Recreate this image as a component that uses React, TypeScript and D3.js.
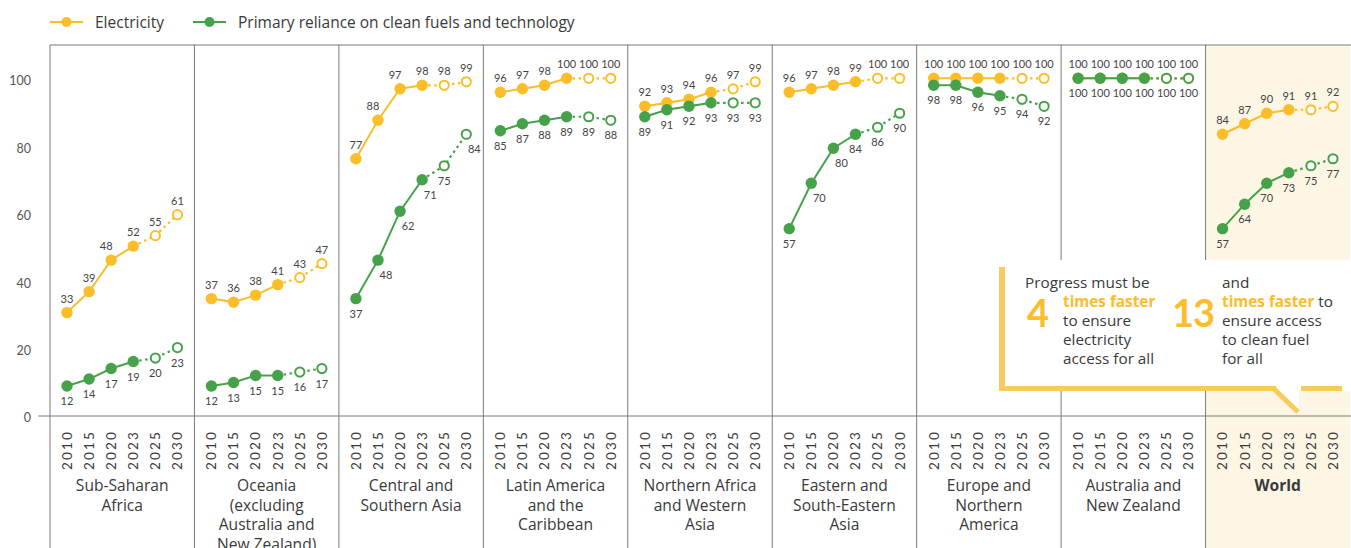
import React, { useEffect, useRef } from 'react';
import * as d3 from 'd3';

const regions = [
  'Sub-Saharan Africa',
  'Oceania (excluding Australia and New Zealand)',
  'Central and Southern Asia',
  'Latin America and the Caribbean',
  'Northern Africa and Western Asia',
  'Eastern and South-Eastern Asia',
  'Europe and Northern America',
  'Australia and New Zealand',
  'World',
];

const regionLabelLines = [
  ['Sub-Saharan', 'Africa'],
  ['Oceania', '(excluding', 'Australia and', 'New Zealand)'],
  ['Central and', 'Southern Asia'],
  ['Latin America', 'and the', 'Caribbean'],
  ['Northern Africa', 'and Western', 'Asia'],
  ['Eastern and', 'South-Eastern', 'Asia'],
  ['Europe and', 'Northern', 'America'],
  ['Australia and', 'New Zealand'],
  ['World'],
];

const years = ['2010', '2015', '2020', '2023', '2025', '2030'];
const lastActualIndex = 3; // 2025 and 2030 are projections

const electricity = [
  [33, 39, 48, 52, 55, 61],
  [37, 36, 38, 41, 43, 47],
  [77, 88, 97, 98, 98, 99],
  [96, 97, 98, 100, 100, 100],
  [92, 93, 94, 96, 97, 99],
  [96, 97, 98, 99, 100, 100],
  [100, 100, 100, 100, 100, 100],
  [100, 100, 100, 100, 100, 100],
  [84, 87, 90, 91, 91, 92],
];

const cleanFuels = [
  [12, 14, 17, 19, 20, 23],
  [12, 13, 15, 15, 16, 17],
  [37, 48, 62, 71, 75, 84],
  [85, 87, 88, 89, 89, 88],
  [89, 91, 92, 93, 93, 93],
  [57, 70, 80, 84, 86, 90],
  [98, 98, 96, 95, 94, 92],
  [100, 100, 100, 100, 100, 100],
  [57, 64, 70, 73, 75, 77],
];

const yTicks = [0, 20, 40, 60, 80, 100];

const YELLOW = '#FBBE28';
const GREEN = '#46A24A';
const CALLOUT = '#F9CA5C';
const TEXT = '#3a3a3a';
const FONT = 'Lato, "Open Sans", sans-serif';
const LABEL_FONT = '"Open Sans", Lato, sans-serif';

const App: React.FC = () => {
  const svgRef = useRef<SVGSVGElement>(null);

  useEffect(() => {
    if (!svgRef.current) return;
    const svg = d3.select(svgRef.current);
    svg.selectAll('*').remove();

    const width = 1351;
    const height = 548;
    const top = 45;
    const axisY = 416;

    const band = d3.scaleBand<string>().domain(regions).range([50, 1350]);
    const xInner = d3.scalePoint<string>().domain(years).range([0, band.bandwidth()]).padding(0.77);
    // data marks and tick labels sit on slightly different scales in the original
    const y = d3.scaleLinear().domain([0, 100]).range([428, 78.3]);
    const yTickScale = d3.scaleLinear().domain([0, 100]).range([418, 81]);

    const g = svg.append('g').style('font-family', FONT);

    // World panel background
    g.append('rect')
      .attr('x', band('World')!)
      .attr('y', top)
      .attr('width', band.bandwidth())
      .attr('height', height - top)
      .style('fill', '#FDF6E4');

    // frame lines
    g.append('line')
      .attr('x1', 50).attr('x2', width)
      .attr('y1', top).attr('y2', top)
      .style('stroke', '#7a7a7a').style('stroke-width', 1);
    g.append('line')
      .attr('x1', 38).attr('x2', width)
      .attr('y1', axisY).attr('y2', axisY)
      .style('stroke', '#7a7a7a').style('stroke-width', 1);
    regions.forEach((r) => {
      g.append('line')
        .attr('x1', band(r)!).attr('x2', band(r)!)
        .attr('y1', top).attr('y2', height)
        .style('stroke', '#7a7a7a').style('stroke-width', 1);
    });

    // y tick labels
    yTicks.forEach((t) => {
      g.append('text')
        .attr('x', 31)
        .attr('y', yTickScale(t))
        .attr('dy', '0.35em')
        .style('text-anchor', 'end')
        .style('font-size', '12.5px')
        .style('fill', '#555')
        .text(t);
    });

    // year labels + region labels
    regions.forEach((r, ri) => {
      const bx = band(r)!;
      years.forEach((yr) => {
        g.append('text')
          .attr('transform', `translate(${bx + xInner(yr)!},470) rotate(-90)`)
          .attr('dy', '0.36em')
          .style('font-size', '13.5px')
          .style('letter-spacing', '2.2px')
          .style('fill', TEXT)
          .text(yr);
      });
      regionLabelLines[ri].forEach((line, li) => {
        g.append('text')
          .attr('x', bx + band.bandwidth() / 2)
          .attr('y', 491 + li * 19.5)
          .style('text-anchor', 'middle')
          .style('font-family', LABEL_FONT)
          .style('font-size', '15.6px')
          .style('font-weight', r === 'World' ? 'bold' : 'normal')
          .style('fill', TEXT)
          .text(line);
      });
    });

    const drawSeries = (values: number[], bx: number, color: string, above: boolean) => {
      const pts = values.map((v, i) => [bx + xInner(years[i])!, y(v)] as [number, number]);
      const line = d3.line();
      g.append('path')
        .attr('d', line(pts.slice(0, lastActualIndex + 1)))
        .style('fill', 'none')
        .style('stroke', color)
        .style('stroke-width', 2);
      g.append('path')
        .attr('d', line(pts.slice(lastActualIndex)))
        .style('fill', 'none')
        .style('stroke', color)
        .style('stroke-width', 2.2)
        .style('stroke-dasharray', '2.5,3.5');
      pts.forEach((p, i) => {
        const projected = i > lastActualIndex;
        g.append('circle')
          .attr('cx', p[0])
          .attr('cy', p[1])
          .attr('r', projected ? 4.6 : 5.7)
          .style('fill', projected ? '#fff' : color)
          .style('stroke', projected ? color : 'none')
          .style('stroke-width', 2);
        const rise = i > 0 ? values[i] - values[i - 1] : 0;
        const dx = rise > 8 ? (above ? -5 : 8) : 0;
        g.append('text')
          .attr('x', p[0] + dx)
          .attr('y', above ? p[1] - 10 : p[1] + 19)
          .style('text-anchor', 'middle')
          .style('font-size', '11px')
          .style('fill', '#444')
          .text(values[i]);
      });
    };

    regions.forEach((r, ri) => {
      const bx = band(r)!;
      drawSeries(electricity[ri], bx, YELLOW, true);
      drawSeries(cleanFuels[ri], bx, GREEN, false);
    });

    // legend
    const legend = [
      { label: 'Electricity', color: YELLOW, x: 50 },
      { label: 'Primary reliance on clean fuels and technology', color: GREEN, x: 193 },
    ];
    legend.forEach((l) => {
      g.append('line')
        .attr('x1', l.x).attr('x2', l.x + 33)
        .attr('y1', 22).attr('y2', 22)
        .style('stroke', l.color).style('stroke-width', 2);
      g.append('circle')
        .attr('cx', l.x + 16.5).attr('cy', 22).attr('r', 5)
        .style('fill', l.color);
      g.append('text')
        .attr('x', l.x + 45)
        .attr('y', 28)
        .style('font-family', LABEL_FONT)
        .style('font-size', '15.5px')
        .style('fill', TEXT)
        .text(l.label);
    });

    // callout box
    const c = g.append('g');
    c.append('rect')
      .attr('x', 999).attr('y', 260)
      .attr('width', width - 999).attr('height', 131)
      .style('fill', '#fff');
    c.append('path')
      .attr('d', 'M1270,388 L1299,414 L1299,388 Z')
      .style('fill', '#fff');
    c.append('rect')
      .attr('x', 999).attr('y', 267).attr('width', 6).attr('height', 124)
      .style('fill', CALLOUT);
    c.append('rect')
      .attr('x', 999).attr('y', 386).attr('width', 277).attr('height', 5)
      .style('fill', CALLOUT);
    c.append('rect')
      .attr('x', 1301).attr('y', 386).attr('width', 41).attr('height', 5)
      .style('fill', CALLOUT);
    c.append('line')
      .attr('x1', 1273).attr('y1', 388).attr('x2', 1298).attr('y2', 412)
      .style('stroke', CALLOUT).style('stroke-width', 5);

    const addText = (x: number, yy: number, parts: { t: string; hl?: boolean }[]) => {
      const t = c.append('text').attr('x', x).attr('y', yy)
        .style('font-family', LABEL_FONT)
        .style('font-size', '15.3px');
      parts.forEach((p) => {
        t.append('tspan')
          .style('fill', p.hl ? YELLOW : TEXT)
          .style('font-weight', p.hl ? 'bold' : 'normal')
          .text(p.t);
      });
    };
    addText(1025, 288, [{ t: 'Progress must be' }]);
    addText(1063, 307, [{ t: 'times faster', hl: true }]);
    addText(1063, 326, [{ t: 'to ensure' }]);
    addText(1063, 345, [{ t: 'electricity' }]);
    addText(1063, 364, [{ t: 'access for all' }]);
    addText(1222, 288, [{ t: 'and' }]);
    addText(1222, 307, [{ t: 'times faster', hl: true }, { t: ' to' }]);
    addText(1222, 326, [{ t: 'ensure access' }]);
    addText(1222, 345, [{ t: 'to clean fuel' }]);
    addText(1222, 364, [{ t: 'for all' }]);
    c.append('text')
      .attr('x', 1027).attr('y', 327)
      .style('font-size', '38px').style('font-weight', 'bold')
      .style('fill', YELLOW)
      .text('4');
    c.append('text')
      .attr('x', 1172).attr('y', 327)
      .style('font-size', '38px').style('font-weight', 'bold')
      .style('letter-spacing', '-1px')
      .style('fill', YELLOW)
      .text('13');
  }, []);

  return (
    <svg
      ref={svgRef}
      width={1351}
      height={548}
      style={{ position: 'absolute', left: 0, top: 0, display: 'block', background: '#fff' }}
    />
  );
};

export default App;
